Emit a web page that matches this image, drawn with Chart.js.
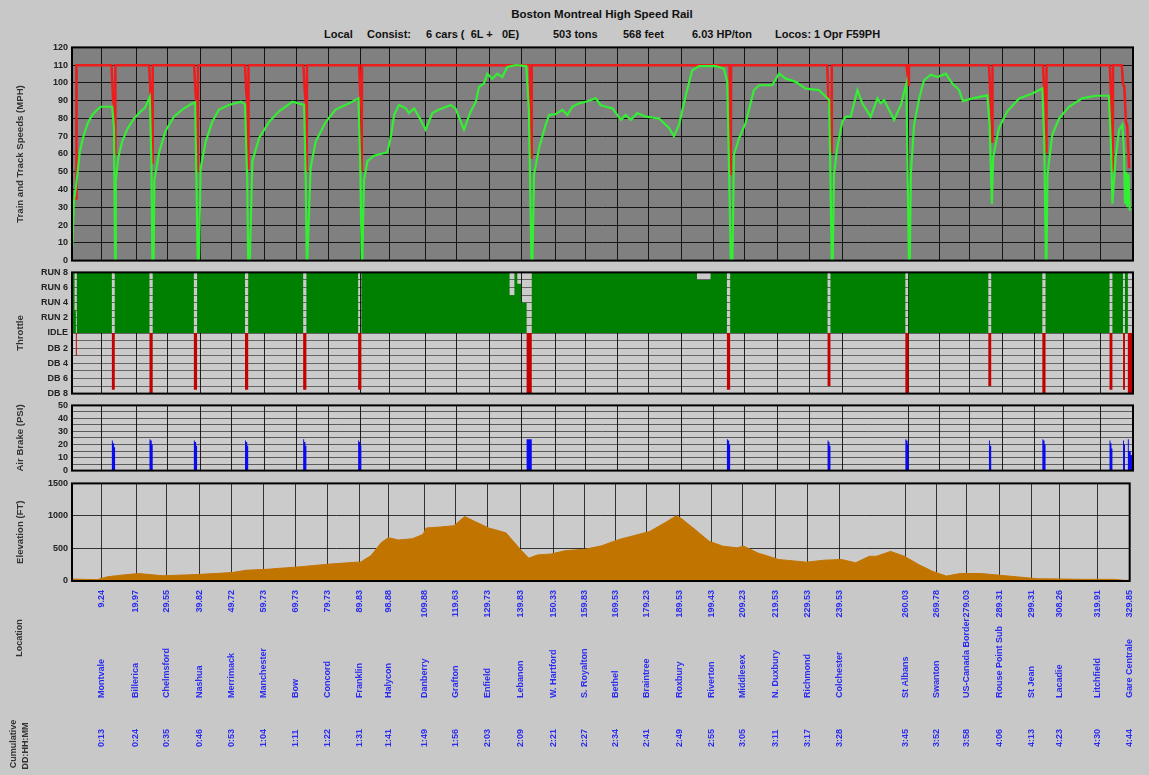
<!DOCTYPE html>
<html>
<head>
<meta charset="utf-8">
<script src="https://cdn.jsdelivr.net/npm/chart.js@4.4.1/dist/chart.umd.min.js"></script>
<style>
  html, body { margin: 0; padding: 0; background: #c8c8c8; }
  #wrap { position: relative; width: 1149px; height: 775px; overflow: hidden; font-family: Arial, "Liberation Sans", sans-serif; }
  #wrap canvas { position: absolute; left: 0; }
  .hdr { position: absolute; white-space: pre; font-weight: bold; color: #111; font-size: 11px; line-height: 13px; }
</style>
</head>
<body>
<div id="wrap">
  <div class="hdr" style="left:0;width:1204px;text-align:center;top:8px;font-size:11.5px;">Boston Montreal High Speed Rail</div>
  <div class="hdr" style="left:324px;top:28px;">Local</div>
  <div class="hdr" style="left:367px;top:28px;">Consist:</div>
  <div class="hdr" style="left:426px;top:28px;">6 cars (  6L +   0E)</div>
  <div class="hdr" style="left:553px;top:28px;">503 tons</div>
  <div class="hdr" style="left:623px;top:28px;">568 feet</div>
  <div class="hdr" style="left:692px;top:28px;">6.03 HP/ton</div>
  <div class="hdr" style="left:775px;top:28px;">Locos: 1 Opr F59PH</div>
  <canvas id="speedChart" width="1149" height="232" style="top:38px"></canvas>
  <canvas id="throttleChart" width="1149" height="140" style="top:263px"></canvas>
  <canvas id="brakeChart" width="1149" height="84" style="top:396px"></canvas>
  <canvas id="elevChart" width="1149" height="301" style="top:474px"></canvas>
</div>
<script>
// Boston - Montreal train performance run (speed / throttle / air brake / elevation vs milepost)

// Station mileposts, names and cumulative run times
const milePosts = [9.24, 19.97, 29.55, 39.82, 49.72, 59.73, 69.73, 79.73, 89.83, 98.88, 109.88,
  119.63, 129.73, 139.83, 150.33, 159.83, 169.53, 179.23, 189.53, 199.43, 209.23, 219.53,
  229.53, 239.53, 260.03, 269.78, 279.03, 289.31, 299.31, 308.26, 319.91, 329.85];
const stationNames = ['Montvale', 'Billerica', 'Chelmsford', 'Nashua', 'Merrimack', 'Manchester',
  'Bow', 'Concord', 'Franklin', 'Halycon', 'Danberry', 'Grafton', 'Enfield', 'Lebanon',
  'W. Hartford', 'S. Royalton', 'Bethel', 'Braintree', 'Roxbury', 'Riverton', 'Middlesex',
  'N. Duxbury', 'Richmond', 'Colchester', 'St Albans', 'Swanton', 'US-Canada Border',
  'Rouse Point Sub', 'St Jean', 'Lacadie', 'Litchfield', 'Gare Centrale'];
const cumTimes = ['0:13', '0:24', '0:35', '0:46', '0:53', '1:04', '1:11', '1:22', '1:31', '1:41',
  '1:49', '1:56', '2:03', '2:09', '2:21', '2:27', '2:34', '2:41', '2:49', '2:55', '3:05', '3:11',
  '3:17', '3:28', '3:45', '3:52', '3:58', '4:06', '4:13', '4:23', '4:30', '4:44'];

// Throttle axis labels, from DB 8 (-8) up to RUN 8 (+8)
const throttleLabels = ['DB 8', '', 'DB 6', '', 'DB 4', '', 'DB 2', '', 'IDLE', '',
  'RUN 2', '', 'RUN 4', '', 'RUN 6', '', 'RUN 8'];

// Train speed [mile, mph]
const trainSpeed = [
  [0.1, 8], [0.6, 33], [1.66, 48], [2.4, 61], [3.4, 69], [4.8, 77], [6.3, 82], [7.9, 85], [8.9, 86.6], [12.5, 86.6], [13.06, 75], [13.4, 0],
  [13.6, 0], [13.65, 45], [14.4, 58], [15.6, 67], [17.2, 74], [19.3, 80], [21.4, 84], [22.7, 86], [24.2, 92], [24.7, 55], [25.0, 0],
  [25.4, 0], [25.6, 45], [27.1, 61], [29.1, 73], [31.7, 81], [34.3, 85], [36.9, 88], [38.3, 89], [38.7, 45], [39.1, 0],
  [39.5, 0], [40, 52], [41.6, 67], [43.6, 78], [45.7, 85], [48.8, 87.6], [52.5, 89.5], [53.8, 88], [54.5, 45], [54.8, 0],
  [55.3, 0], [56.1, 56], [58.2, 69], [61.3, 78], [64.4, 84], [68.5, 89.4], [72.2, 87.6], [72.7, 45], [73, 0],
  [73.2, 0], [74.2, 52], [75.8, 67], [78.9, 78], [82, 85], [86.2, 88.5], [89.1, 91.3], [89.7, 50], [90.1, 0],
  [90.3, 0], [90.8, 45], [91.9, 56], [93.9, 59], [98.1, 61], [99.1, 69], [100.2, 82], [101.7, 87.6], [103.8, 85.7],
  [104.8, 83], [106.4, 85.7], [107.9, 81], [110, 73.7], [112.1, 83], [114.2, 85], [117.8, 87.6], [119.3, 85.5],
  [121.9, 73.7], [124, 84], [125.6, 89.4], [126.6, 97.8], [128.1, 99.6], [129.2, 105.2], [130.7, 102.4],
  [132.3, 105.2], [133.8, 103.3], [135.4, 109], [138, 110], [141.3, 109.5], [142.1, 85], [142.9, 0],
  [143.2, 0], [143.7, 48.6], [145.3, 63.5], [147.3, 76.4], [148.4, 82], [150.4, 82.4], [152.5, 84.8], [154.1, 82],
  [155.6, 86.6], [157.7, 88.5], [159.8, 89.4], [162.9, 91.3], [164.4, 87.6], [166, 86.6], [168.1, 85.7],
  [170.7, 79.2], [172.2, 82], [173.8, 79.2], [175.8, 83], [178.4, 81], [182.6, 80], [185.7, 74.6], [187.2, 70],
  [188.8, 76.4], [190.9, 93], [192.9, 107], [195, 109.5], [200.2, 109.5], [202.8, 108], [203.8, 100.6], [204.4, 48], [204.9, 0],
  [205.4, 0], [205.9, 59.7], [207.5, 69], [209.5, 77.4], [212.1, 96], [213.7, 98.7], [217.8, 98.7], [219.9, 105.2],
  [222, 102.4], [225.1, 100.6], [228.2, 96.8], [232.3, 96], [235.5, 90.4], [236.3, 0],
  [236.6, 0], [237, 48.6], [238, 63.5], [239.6, 78.3], [240.7, 81], [242.2, 81], [244.3, 96], [245.8, 88.5],
  [248.4, 81], [250.5, 91.3], [251.5, 88.5], [252.6, 90.4], [255.7, 79.2], [257.8, 87.6], [259.5, 99.6], [260.3, 0],
  [260.6, 0], [260.9, 48.6], [261.9, 76.4], [263.5, 91.3], [265, 101.5], [267.1, 104.6], [269.2, 103.3],
  [271.8, 105.2], [273.8, 99.6], [275.9, 96], [277.1, 89.8], [280, 91.3], [284.7, 93], [285.4, 76.4], [286.1, 32],
  [286.5, 58], [288.3, 74.6], [290.9, 84], [294.6, 91.3], [298.7, 94], [301.8, 96.8], [302.4, 67], [302.9, 0],
  [303.1, 0], [303.4, 48.6], [304.9, 71], [307, 80], [310.1, 86.6], [314.2, 91.3], [318.4, 92.8], [322.5, 92.8],
  [323.1, 67], [323.6, 32],
  [324.6, 58], [325.7, 73.7], [326.7, 76.4], [327.2, 61.6], [327.5, 32], [327.9, 50], [328.2, 30], [328.6, 48.6], [329, 28]
];

// Track speed limit [mile, mph]
const trackSpeed = [
  [0, 35], [1.3, 35], [1.4, 110],
  [12.3, 110], [12.8, 90], [13.2, 86], [13.4, 60], [13.5, 110],
  [24.0, 110], [24.4, 95], [24.8, 90], [25.0, 55], [25.1, 110],
  [38.0, 110], [38.5, 92], [38.9, 88], [39.1, 50], [39.2, 110],
  [53.8, 110], [54.2, 95], [54.6, 88], [54.8, 52], [54.9, 110],
  [72.0, 110], [72.4, 95], [72.8, 88], [73.0, 50], [73.1, 110],
  [89.3, 110], [89.7, 92], [90.0, 85], [90.1, 50], [90.2, 110],
  [142.4, 110], [142.6, 80], [142.9, 58], [143.0, 110],
  [204.5, 110], [204.7, 80], [204.9, 48], [205.0, 110],
  [234.9, 110], [235.3, 90], [235.8, 85], [236.2, 61], [236.3, 110],
  [259.5, 110], [259.9, 105], [260.2, 99], [260.3, 110],
  [285.2, 110], [285.6, 95], [286.0, 80], [286.2, 67], [286.3, 110],
  [302.0, 110], [302.4, 95], [302.8, 90], [303.0, 61], [303.1, 110],
  [322.8, 110], [323.2, 90], [323.5, 60], [323.7, 50], [323.8, 110],
  [326.5, 110], [326.9, 99], [327.3, 98], [327.8, 78], [328.2, 76], [328.8, 52]
];

// Throttle notch (+ run, - dynamic brake), held until next point [mile, notch]
const throttle = [
  [0, 8], [0.8, 3], [1.2, -3], [1.5, 8],
  [12.4, -7.5], [13.3, 8],
  [24.1, -8], [25.1, 8],
  [37.9, -7.5], [38.9, 8],
  [53.8, -7.5], [54.8, 8],
  [71.9, -7.5], [72.9, 8],
  [89.0, -7.5], [90.0, 8],
  [136.1, 5], [137.6, 8], [138.5, 6.5], [139.7, 4], [141.4, -8], [143.0, 8],
  [194.4, 7], [198.6, 8],
  [203.7, -7.5], [204.7, 8],
  [235.0, -7], [235.9, 8],
  [259.2, -8], [260.2, 8],
  [285.0, -7], [285.9, 8],
  [301.8, -8], [302.8, 8],
  [322.7, -7.5], [323.6, 8],
  [326.9, -7.5], [327.5, 8], [328.4, -8], [330, -8]
];

// Air brake pipe reduction [mile, psi]
const airBrake = [
  [0, 0],
  [12.4, 23], [12.7, 21], [13.1, 18], [13.4, 0],
  [24.1, 24], [24.4, 23], [24.8, 20], [25.1, 0],
  [37.9, 23], [38.2, 22], [38.6, 19], [38.9, 0],
  [53.8, 23], [54.1, 22], [54.5, 19], [54.8, 0],
  [71.9, 24], [72.2, 22], [72.6, 19], [72.9, 0],
  [89.0, 23], [89.3, 22], [89.7, 19], [90.0, 0],
  [141.4, 24], [143.0, 0],
  [203.7, 24], [204.0, 23], [204.4, 20], [204.7, 0],
  [235.0, 23], [235.3, 22], [235.6, 19], [235.9, 0],
  [259.2, 24], [259.5, 23], [259.9, 20], [260.2, 0],
  [285.2, 23], [285.5, 19], [285.9, 0],
  [301.8, 24], [302.1, 23], [302.5, 20], [302.8, 0],
  [322.7, 23], [323.0, 21], [323.3, 17], [323.6, 0],
  [326.9, 23], [327.2, 20], [327.5, 0],
  [328.4, 24], [328.7, 15], [329.3, 12], [330, 0]
];

// Track elevation [mile, feet]
const elevation = [
  [0, 30], [0.3, 30], [7.8, 20], [11.1, 65], [15.4, 90], [20.8, 115], [24.1, 100], [28.4, 80], [39.2, 100],
  [50, 130], [54.3, 165], [60.8, 180], [71.6, 220], [80.3, 260], [88.9, 290], [90, 290], [93.3, 390],
  [96.5, 590], [98.7, 665], [101.9, 630], [106.2, 650], [109.5, 715], [110.5, 815], [114.9, 830],
  [119.2, 850], [122.5, 990], [125.7, 915], [130, 815], [135.4, 740], [139.8, 490], [142.5, 350],
  [145.2, 400], [149.5, 415], [153.8, 465], [160.3, 490], [165.2, 540], [170.5, 635], [180.2, 760],
  [185.7, 915], [188.4, 1000], [190, 965], [194.4, 790], [198.8, 610], [203.1, 535], [207.5, 510],
  [209.6, 535], [214, 430], [220.5, 330], [229.2, 290], [234.7, 320], [240.1, 330], [244.5, 280],
  [248.8, 380], [251, 380], [255.4, 455], [259.7, 380], [264.1, 255], [268.4, 150], [272.8, 75],
  [277.1, 115], [283.7, 115], [290.2, 85], [294.6, 65], [301.1, 35], [316.3, 25], [325, 25], [328.3, 10], [330, 10]
];

const FONT = 'Arial, "Liberation Sans", sans-serif';
Chart.defaults.font.family = FONT;
Chart.defaults.color = '#222';

const toXY = pts => pts.map(p => ({ x: p[0], y: p[1] }));

// Panel background under the plot and heavy frame around it
const panelFrame = {
  id: 'panelFrame',
  beforeDraw(chart, args, opts) {
    const a = chart.chartArea, ctx = chart.ctx;
    ctx.save();
    ctx.fillStyle = opts.bg || '#cccccc';
    ctx.fillRect(a.left, a.top, a.right - a.left, a.bottom - a.top);
    ctx.restore();
  },
  afterDraw(chart) {
    const a = chart.chartArea, ctx = chart.ctx;
    ctx.save();
    ctx.strokeStyle = '#000';
    ctx.lineWidth = 2;
    ctx.strokeRect(a.left, a.top, a.right - a.left, a.bottom - a.top);
    ctx.restore();
  }
};

function xAxis(showLabels, gridColor, onTop) {
  return {
    type: 'linear', min: 0, max: 330,
    z: onTop ? 1 : 0,
    afterBuildTicks: s => { s.ticks = milePosts.map(v => ({ value: v })); },
    afterFit: s => { s.height = showLabels ? 194 : 0; },
    grid: { color: gridColor, lineWidth: 1, drawTicks: false },
    border: { display: false },
    ticks: {
      display: showLabels, autoSkip: false, minRotation: 90, maxRotation: 90, padding: 9,
      color: '#2b2bf0', font: { size: 9, weight: 'bold' },
      callback: v => v.toFixed(2)
    }
  };
}

function yAxis(title, min, max, step, labelFn, gridColor, onTop) {
  return {
    min: min, max: max,
    z: onTop ? 1 : 0,
    afterFit: s => { s.width = 72; },
    grid: { color: gridColor, lineWidth: 1, drawTicks: false },
    border: { display: false },
    ticks: { stepSize: step, autoSkip: false, padding: 4, color: '#222', font: { size: 9, weight: 'bold' }, callback: labelFn },
    title: { display: true, text: title, color: '#333', font: { size: 9.6, weight: 'bold' }, padding: { top: 15, bottom: 0 } }
  };
}

function baseOptions(padTop, padBottom, bg) {
  return {
    responsive: false,
    animation: false,
    events: [],
    layout: { padding: { left: 0, right: 16, top: padTop, bottom: padBottom } },
    plugins: { legend: { display: false }, tooltip: { enabled: false }, panelFrame: { bg: bg } },
    elements: { point: { radius: 0 }, line: { tension: 0 } }
  };
}

// Speed panel
const speedOpts = baseOptions(7, 8, '#808080');
speedOpts.scales = {
  x: xAxis(false, '#151515', false),
  y: yAxis('Train and Track Speeds (MPH)', 0, 120, 10, v => v, '#151515', false)
};
new Chart(document.getElementById('speedChart'), {
  type: 'line',
  data: {
    datasets: [
      { label: 'Train Speed', data: toXY(trainSpeed), borderColor: '#33ee33', borderWidth: 2.2, fill: false },
      { label: 'Track Speed', data: toXY(trackSpeed), borderColor: '#ee1c1c', borderWidth: 2.5, fill: false }
    ]
  },
  options: speedOpts,
  plugins: [panelFrame]
});

// Throttle panel
const thrOpts = baseOptions(7, 7, '#cbcbcb');
thrOpts.scales = {
  x: xAxis(false, 'rgba(0,0,0,0.85)', true),
  y: yAxis('Throttle', -8, 8, 1, v => throttleLabels[Math.round(v) + 8], 'rgba(0,0,0,0.5)', true)
};
new Chart(document.getElementById('throttleChart'), {
  type: 'line',
  data: {
    datasets: [{
      label: 'Throttle', data: toXY(throttle), stepped: true,
      borderColor: 'rgba(0,0,0,0)', borderWidth: 0,
      fill: { target: { value: 0 }, above: '#008000', below: '#c40000' }
    }]
  },
  options: thrOpts,
  plugins: [panelFrame]
});

// Air brake panel
const brkOpts = baseOptions(6, 7, '#cbcbcb');
brkOpts.scales = {
  x: xAxis(false, 'rgba(0,0,0,0.85)', true),
  y: yAxis('Air Brake (PSI)', 0, 50, 5, v => (v % 10 === 0 ? v : ''), 'rgba(0,0,0,0.55)', true)
};
new Chart(document.getElementById('brakeChart'), {
  type: 'line',
  data: {
    datasets: [{
      label: 'Air Brake', data: toXY(airBrake), stepped: true,
      borderColor: 'rgba(0,0,0,0)', borderWidth: 0, fill: 'origin', backgroundColor: '#0a0af0'
    }]
  },
  options: brkOpts,
  plugins: [panelFrame]
});

// Station names and cumulative times under the elevation panel
const stationLabels = {
  id: 'stationLabels',
  afterDraw(chart) {
    const ctx = chart.ctx, xs = chart.scales.x;
    ctx.save();
    ctx.font = 'bold 9px ' + FONT;
    ctx.textBaseline = 'middle';
    ctx.textAlign = 'left';
    ctx.fillStyle = '#2b2bf0';
    milePosts.forEach(function(m, i) {
      const x = xs.getPixelForValue(m);
      ctx.save(); ctx.translate(x, 224); ctx.rotate(-Math.PI / 2); ctx.fillText(stationNames[i], 0, 0); ctx.restore();
      ctx.save(); ctx.translate(x, 273); ctx.rotate(-Math.PI / 2); ctx.fillText(cumTimes[i], 0, 0); ctx.restore();
    });
    ctx.fillStyle = '#333';
    ctx.textAlign = 'center';
    [['Location', 20, 164], ['Cumulative', 14, 270], ['DD:HH:MM', 26, 272]].forEach(function(t) {
      ctx.save(); ctx.translate(t[1], t[2]); ctx.rotate(-Math.PI / 2); ctx.fillText(t[0], 0, 0); ctx.restore();
    });
    ctx.restore();
  }
};

// Elevation panel
const elvOpts = baseOptions(7, 0, '#cbcbcb');
elvOpts.scales = {
  x: xAxis(true, 'rgba(0,0,0,0.75)', true),
  y: yAxis('Elevation (FT)', 0, 1500, 500, v => v, 'rgba(0,0,0,0.75)', true)
};
new Chart(document.getElementById('elevChart'), {
  type: 'line',
  data: {
    datasets: [{
      label: 'Elevation', data: toXY(elevation),
      borderColor: '#c27400', borderWidth: 1, fill: 'origin', backgroundColor: '#c27400'
    }]
  },
  options: elvOpts,
  plugins: [panelFrame, stationLabels]
});
</script>
</body>
</html>
